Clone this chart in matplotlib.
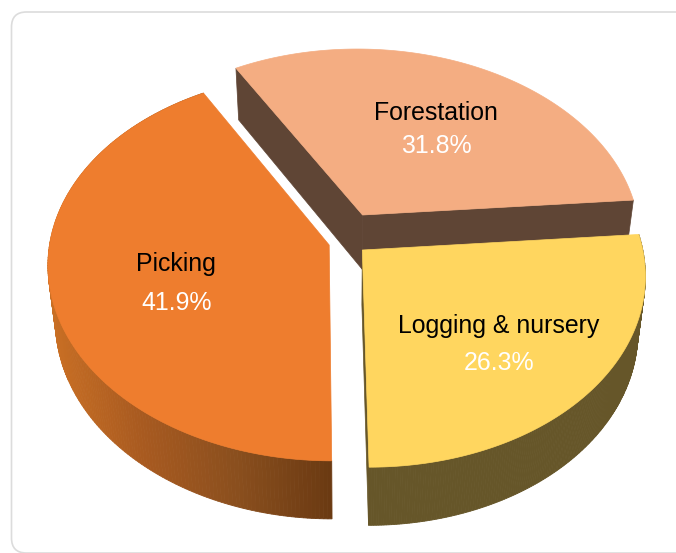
import numpy as np
import matplotlib
matplotlib.use('Agg')
import matplotlib.pyplot as plt
from matplotlib.colors import LinearSegmentedColormap
from matplotlib.patches import FancyBboxPatch, Polygon

plt.rcParams['font.family'] = ['Liberation Sans', 'DejaVu Sans']

# Data, clockwise from the front of the pie
categories = ['Picking', 'Forestation', 'Logging & nursery']
shares = [41.9, 31.8, 26.3]

top_colors = ['#ee7d2e', '#f4ad82', '#ffd65f']
side_color_log = '#665629'
wall_color = '#5f4535'

# Slices are pulled apart by hand, in pie radius units
explode = [(-0.0573, -0.0527), (0.0655, 0.1071), (0.0606, -0.0787)]

# Label centres, in pixels
name_pos = [(176, 264), (436, 113), (499, 326)]
share_pos = [(177, 303), (436, 146), (499, 363)]

# Perspective view of the pie
ORIGIN_X, ORIGIN_Y = 345, 235
SCALE_X, SCALE_Y = 278, 189
PERSP = 0.113
SKEW = 4
DEPTH = 54.5
UNDERSIDE = 0.975


def project(x, y, lower=False):
    # lower=True gives the point on the underside of the pie
    x, y = np.asarray(x, dtype=float), np.asarray(y, dtype=float)
    s = 1 / (1 + PERSP * y)
    px = ORIGIN_X + (SCALE_X * x - SKEW * y) * s
    py = ORIGIN_Y - SCALE_Y * y * s
    if lower:
        px = ORIGIN_X + (px - ORIGIN_X) * UNDERSIDE
        py = py + DEPTH * np.sqrt(s)
    return np.column_stack([px, py])


def slice_rim(idx, start, n=200):
    # rim of one slice, running clockwise from start (degrees)
    sweep = shares[idx] / sum(shares) * 360
    t = np.radians(np.linspace(start, start - sweep, n))
    ex, ey = explode[idx]
    return ex + np.cos(t), ey + np.sin(t)


def wall(ax, p0, p1, color, zorder):
    # flat cut face between two points of the top surface
    xs, ys = [p0[0], p1[0]], [p0[1], p1[1]]
    top = project(xs, ys)
    bottom = project(xs, ys, lower=True)
    ax.add_patch(Polygon(np.vstack([top, bottom[::-1]]), closed=True,
                         facecolor=color, edgecolor=color, lw=0.5, zorder=zorder))


def curved_side(ax, rx, ry, colors, zorder):
    top = project(rx, ry)
    bottom = project(rx, ry, lower=True)
    for i in range(len(rx) - 1):
        quad = [top[i], top[i + 1], bottom[i + 1], bottom[i]]
        ax.add_patch(Polygon(quad, closed=True, facecolor=colors[i],
                             edgecolor=colors[i], lw=0.6, zorder=zorder))


fig = plt.figure(figsize=(6.76, 5.53), dpi=100)
ax = fig.add_axes([0, 0, 1, 1])
ax.set_xlim(0, 676)
ax.set_ylim(553, 0)
ax.axis('off')

# Card behind the chart, runs off the right and bottom edges
ax.add_patch(FancyBboxPatch((11.5, 12), 720, 541,
                            boxstyle='round,pad=0,rounding_size=15',
                            facecolor='white', edgecolor='#dcdcdc', lw=1.2, zorder=0))

picking_side = LinearSegmentedColormap.from_list(
    'picking_side', ['#c96f24', '#a85a20', '#8a4f1e', '#6b3a12'])

start = -90
for idx in range(len(shares)):
    rx, ry = slice_rim(idx, start)
    apex = explode[idx]
    first = (rx[0], ry[0])
    last = (rx[-1], ry[-1])

    if idx == 0:
        px = project(rx, ry)[:, 0]
        colors = picking_side((px - px.min()) / (px.max() - px.min()))
        curved_side(ax, rx, ry, colors, 2)
    elif idx == 1:
        wall(ax, apex, first, wall_color, 1)
        wall(ax, apex, last, wall_color, 1)
    else:
        curved_side(ax, rx, ry, [side_color_log] * len(rx), 3)
        wall(ax, apex, last, side_color_log, 3)

    outline = np.vstack([project([apex[0]], [apex[1]]), project(rx, ry)])
    z = 4 if idx != 1 else 1.5
    ax.add_patch(Polygon(outline, closed=True, facecolor=top_colors[idx],
                         edgecolor=top_colors[idx], lw=0.5, zorder=z))

    ax.text(*name_pos[idx], categories[idx], color='black', fontsize=17.9,
            ha='center', va='center', zorder=5)
    ax.text(*share_pos[idx], f'{shares[idx]}%', color='white', fontsize=17.9,
            ha='center', va='center', zorder=5)

    start -= shares[idx] / sum(shares) * 360

fig.savefig('out.png', dpi=100)
